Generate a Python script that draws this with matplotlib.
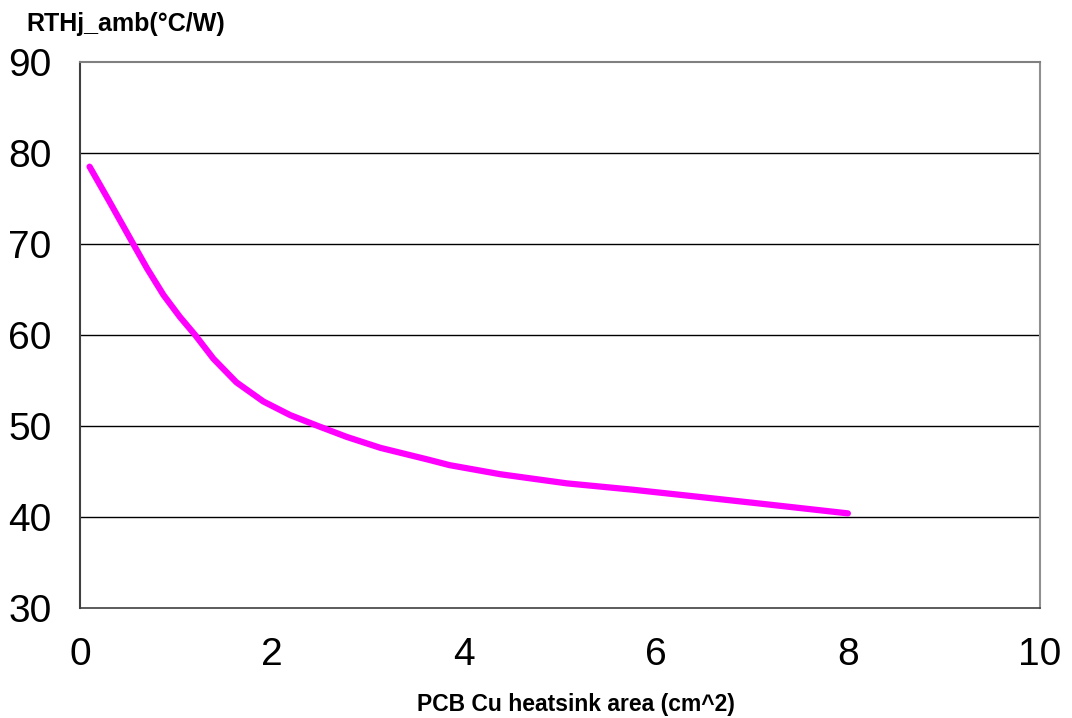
import matplotlib.pyplot as plt

# curve
area_cm2 = [0.1, 0.3, 0.55, 0.7, 0.87, 1.04, 1.2, 1.39, 1.63, 1.91, 2.19, 2.48,
            2.78, 3.13, 3.63, 3.85, 4.38, 5.07, 5.76, 6.46, 7.15, 8.0]
rth_amb = [78.5, 74.8, 70.1, 67.3, 64.4, 62.0, 60.0, 57.4, 54.8, 52.7, 51.2, 50.0,
           48.8, 47.6, 46.3, 45.7, 44.7, 43.7, 43.0, 42.2, 41.4, 40.4]

x_ticks = [0, 2, 4, 6, 8, 10]
y_ticks = [30, 40, 50, 60, 70, 80, 90]

plt.rcParams["font.family"] = ["Liberation Sans", "DejaVu Sans"]

fig = plt.figure(figsize=(10.72, 7.18), dpi=100)
ax = fig.add_axes([0.0746, 0.1532, 0.8954, 0.7604])

for y in y_ticks[1:-1]:
    ax.axhline(y, color="black", linewidth=1.0, zorder=1)

ax.plot(area_cm2, rth_amb, color="#FF00FF", linewidth=4.5,
        solid_capstyle="round", solid_joinstyle="round", zorder=3)

ax.set_xlim(0, 10)
ax.set_ylim(30, 90)
ax.set_xticks(x_ticks)
ax.set_yticks(y_ticks)
ax.tick_params(length=0, labelsize=28)
ax.tick_params(axis="x", pad=21)
ax.tick_params(axis="y", pad=20.5)

ax.spines["left"].set_color("#404040")
ax.spines["left"].set_linewidth(1.5)
ax.spines["bottom"].set_color("#404040")
ax.spines["bottom"].set_linewidth(1.2)
ax.spines["top"].set_color("#808080")
ax.spines["top"].set_linewidth(1.5)
ax.spines["right"].set_color("#909090")
ax.spines["right"].set_linewidth(1.5)

fig.text(0.025, 0.967, "RTHj_amb(°C/W)", fontsize=18, fontweight="bold",
         ha="left", va="center")
fig.text(0.537, 0.019, "PCB Cu heatsink area (cm^2)", fontsize=16.5,
         fontweight="bold", ha="center", va="center")

fig.savefig("out.png", dpi=100)
